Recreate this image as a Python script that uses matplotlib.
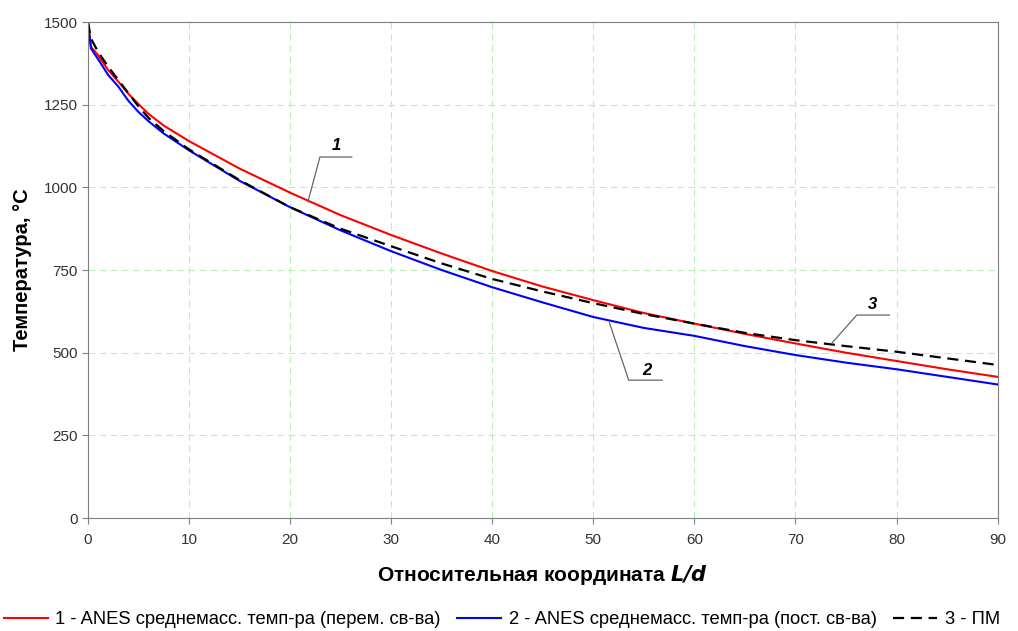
import matplotlib.pyplot as plt

plt.rcParams['font.family'] = ['Liberation Sans', 'DejaVu Sans']

# относительная координата L/d
x = [0, 0.3, 1, 2, 3, 4, 5, 6, 7.5, 10, 15, 20, 25, 30, 35, 40, 45, 50, 55, 60, 65, 70, 75, 80, 85, 90]
# 1 - ANES, переменные свойства
t_var = [1500, 1425, 1400, 1355, 1320, 1283, 1252, 1222, 1187, 1140, 1057, 984, 916, 856, 800,
         747, 700, 659, 620, 588, 557, 528, 500, 475, 450, 427]
# 2 - ANES, постоянные свойства
t_const = [1500, 1420, 1388, 1340, 1305, 1262, 1228, 1200, 1163, 1112, 1020, 940, 870, 807, 750,
           698, 652, 608, 575, 551, 520, 493, 470, 450, 427, 404]
# 3 - ПМ
t_pm = [1500, 1450, 1410, 1365, 1325, 1285, 1245, 1210, 1170, 1115, 1022, 940, 875, 822, 770,
        723, 685, 650, 617, 588, 560, 538, 520, 503, 483, 463]

labels = ["1 - ANES среднемасс. темп-ра (перем. св-ва)",
          "2 - ANES среднемасс. темп-ра (пост. св-ва)",
          "3 - ПМ"]

fig = plt.figure(figsize=(10.18, 6.31), dpi=100)
ax = fig.add_axes([0.0864, 0.179, 0.8936, 0.786])

ax.plot(x, t_var, color="#ff0000", lw=1.5, label=labels[0])
ax.plot(x, t_const, color="#0000ff", lw=1.5, label=labels[1])
ax.plot(x, t_pm, color="black", lw=1.6, dashes=(5, 3), label=labels[2])

ax.set_xlim(0, 90)
ax.set_ylim(0, 1500)
ax.set_xticks(range(0, 91, 10))
ax.set_yticks(range(0, 1501, 250))
ax.grid(color="#b8f0b8", linestyle=(0, (6, 4)), linewidth=0.8)
ax.set_axisbelow(True)
for s in ax.spines.values():
    s.set_color("#7f7f7f")
ax.tick_params(direction="out", length=4, color="#7f7f7f", labelsize=11, labelcolor="#333333")
ax.tick_params(axis="x", pad=7)

ax.set_xlabel("Относительная координата $\\bfit{L/d}$", fontsize=15, fontweight="bold", labelpad=11)
ax.set_ylabel("Температура, °С", fontsize=14.5, fontweight="bold", labelpad=8)

# выноски с номерами кривых
lead = dict(color="#666666", lw=0.9)
ax.plot([26.1, 22.95, 21.76], [1092, 1092, 956], **lead)
ax.text(24.6, 1105, "1", fontsize=12, fontweight="bold", style="italic", ha="center", va="bottom")
ax.plot([56.8, 53.5, 51.6], [417, 417, 590], **lead)
ax.text(55.3, 425, "2", fontsize=12, fontweight="bold", style="italic", ha="center", va="bottom")
ax.plot([79.3, 76.06, 73.6], [614, 614, 529], **lead)
ax.text(77.6, 622, "3", fontsize=12, fontweight="bold", style="italic", ha="center", va="bottom")

fig.legend(loc="lower center", bbox_to_anchor=(0.493, -0.022), ncol=3, frameon=False,
           fontsize=13.2, handlelength=2.4, columnspacing=0.9, handletextpad=0.4)

fig.savefig("out.png", dpi=100)
